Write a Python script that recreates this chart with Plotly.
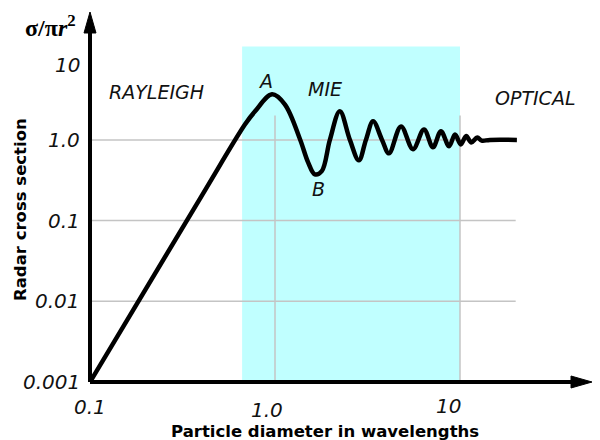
import math
import plotly.graph_objects as go

# ---- data ----
diameter = [0.1, 0.4, 0.689, 0.78, 0.964, 1.13, 1.365, 1.51, 1.64, 1.79,
            1.98, 2.24, 2.54, 2.84, 3.10, 3.39, 3.79, 4.13, 4.80, 5.57,
            6.39, 7.14, 7.89, 8.73, 9.40, 10.1, 10.8, 11.5, 12.4, 13.1,
            14.5, 20.3]
cross_section = [0.001, 0.2, 1.56, 2.26, 3.67, 2.76, 1.02, 0.527, 0.375, 0.41,
                 1.0, 2.26, 1.0, 0.558, 1.0, 1.70, 1.0, 0.683, 1.47, 0.766,
                 1.35, 0.81, 1.28, 0.834, 1.17, 0.88, 1.12, 0.93, 1.07, 0.98,
                 1.0, 1.0]

x_tick_vals = [0.1, 1.0, 10]
x_tick_text = ["0.1", "1.0", "10"]
y_tick_vals = [0.001, 0.01, 0.1, 1.0, 10]
y_tick_text = ["0.001", "0.01", "0.1", "1.0", "10"]

mie_range = [0.664, 10.0]
mie_top = 14.4
h_grid = [0.01, 0.1, 1.0]
h_grid_end = 20.0
v_grid = [1.0, 10.0]
v_grid_top = 2.0

regions = [("RAYLEIGH", 0.23, 3.9), ("MIE", 1.86, 4.3), ("OPTICAL", 25.4, 3.3),
           ("A", 0.89, 5.3), ("B", 1.71, 0.245)]

# ---- layout geometry ----
W, H = 600, 440
L, R, T, B = 90, 10, 13, 58
PW, PH = W - L - R, H - T - B
X_RANGE = [-1.0, -1.0 + PW / 185.0]
Y_RANGE = [-3.0, -3.0 + PH / 80.7]

# hand-placed tick label nudges (pixels)
x_tick_xshift = [0, -8, -12]
x_tick_yshift = [0, -3, 1]
y_tick_yshift = [0, 0, 0, 0, -6]


def px_x(v):
    return (math.log10(v) - X_RANGE[0]) / (X_RANGE[1] - X_RANGE[0])


def px_y(v):
    return (math.log10(v) - Y_RANGE[0]) / (Y_RANGE[1] - Y_RANGE[0])


def pap_x(px):
    return (px - L) / PW


def pap_y(py):
    return (H - B - py) / PH


fig = go.Figure()
fig.add_trace(go.Scatter(
    x=diameter, y=cross_section, mode="lines",
    line=dict(color="black", width=4.5, shape="spline", smoothing=1.0),
    hoverinfo="skip", showlegend=False))

shapes = []
# Mie region
shapes.append(dict(type="rect", xref="paper", yref="paper",
                   x0=px_x(mie_range[0]), x1=px_x(mie_range[1]),
                   y0=0, y1=px_y(mie_top),
                   fillcolor="#c0ffff", line=dict(width=0), layer="below"))
for g in h_grid:
    shapes.append(dict(type="line", xref="paper", yref="paper",
                       x0=0, x1=px_x(h_grid_end), y0=px_y(g), y1=px_y(g),
                       line=dict(color="#c4c4c4", width=1.5), layer="below"))
for g in v_grid:
    shapes.append(dict(type="line", xref="paper", yref="paper",
                       x0=px_x(g), x1=px_x(g), y0=0, y1=px_y(v_grid_top),
                       line=dict(color="#c4c4c4", width=1.5), layer="below"))

# axes with arrows
shapes.append(dict(type="line", xref="paper", yref="paper",
                   x0=pap_x(90), x1=pap_x(578), y0=pap_y(382), y1=pap_y(382),
                   line=dict(color="black", width=4)))
shapes.append(dict(type="line", xref="paper", yref="paper",
                   x0=pap_x(90), x1=pap_x(90), y0=pap_y(382), y1=pap_y(25),
                   line=dict(color="black", width=4)))


def tri(pts):
    p = "M " + " L ".join(f"{pap_x(a):.5f},{pap_y(b):.5f}" for a, b in pts) + " Z"
    return dict(type="path", xref="paper", yref="paper", path=p,
                fillcolor="black", line=dict(color="black", width=1))


shapes.append(tri([(90, 12), (84, 33), (96, 33)]))
shapes.append(tri([(592, 382), (571, 376), (571, 388)]))

annotations = []
tick_font = dict(family="DejaVu Sans", size=20, color="#111111", style="italic")
for v, t, dx, dy in zip(x_tick_vals, x_tick_text, x_tick_xshift, x_tick_yshift):
    annotations.append(dict(xref="paper", yref="paper", x=px_x(v), y=pap_y(407),
                            text=t, showarrow=False, xanchor="center",
                            yanchor="middle", xshift=dx, yshift=dy, font=tick_font))
for v, t, dy in zip(y_tick_vals, y_tick_text, y_tick_yshift):
    annotations.append(dict(xref="paper", yref="paper", x=pap_x(82), y=px_y(v),
                            text=t, showarrow=False, xanchor="right",
                            yanchor="middle", yshift=dy, font=tick_font))
label_font = dict(family="DejaVu Sans", size=19, color="#111111", style="italic")
for t, xv, yv in regions:
    annotations.append(dict(xref="paper", yref="paper", x=px_x(xv), y=px_y(yv),
                            text=t, showarrow=False, xanchor="center",
                            yanchor="middle", font=label_font))

annotations.append(dict(xref="paper", yref="paper", x=pap_x(325), y=pap_y(431),
                        text="Particle diameter in wavelengths", showarrow=False,
                        xanchor="center", yanchor="middle",
                        font=dict(family="DejaVu Sans", size=16.5, color="black",
                                  weight="bold")))
annotations.append(dict(xref="paper", yref="paper", x=pap_x(20), y=pap_y(210),
                        text="Radar cross section", showarrow=False, textangle=-90,
                        xanchor="center", yanchor="middle",
                        font=dict(family="DejaVu Sans", size=16.5, color="black",
                                  weight="bold")))
annotations.append(dict(xref="paper", yref="paper", x=pap_x(50), y=pap_y(26),
                        text="σ/π<i>r</i><sup>2</sup>", showarrow=False,
                        xanchor="center", yanchor="middle",
                        font=dict(family="Liberation Serif", size=24, color="black",
                                  weight="bold")))

fig.update_layout(
    width=W, height=H, margin=dict(l=L, r=R, t=T, b=B),
    paper_bgcolor="white", plot_bgcolor="white",
    xaxis=dict(type="log", range=X_RANGE, visible=False),
    yaxis=dict(type="log", range=Y_RANGE, visible=False),
    shapes=shapes, annotations=annotations, showlegend=False)

fig.write_html("out.html")
